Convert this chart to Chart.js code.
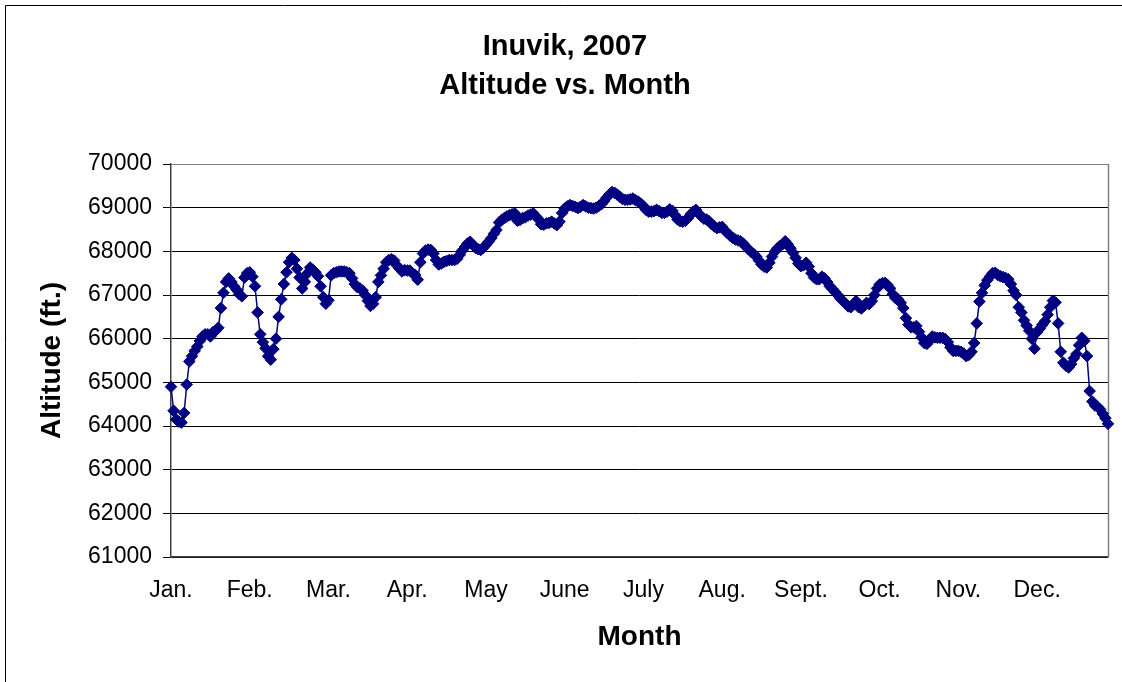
<!DOCTYPE html>
<html>
<head>
<meta charset="utf-8">
<script src="https://cdn.jsdelivr.net/npm/chart.js@4.4.1/dist/chart.umd.min.js"></script>
<style>
  html, body { margin: 0; padding: 0; background: #ffffff; }
  #wrap { width: 1122px; height: 682px; position: relative; }
</style>
</head>
<body>
<div id="wrap"><canvas id="c" width="1122" height="682"></canvas></div>
<script>
// Month tick labels (one every 30 observations)
const monthLabels = ['Jan.', 'Feb.', 'Mar.', 'Apr.', 'May', 'June', 'July', 'Aug.', 'Sept.', 'Oct.', 'Nov.', 'Dec.'];

// Daily altitude (ft.), one value per observation, in order
const altitude = [
  64900, 64350, 64150, 64100, 64080, 64300, 64950, 65480, 65600, 65720,
  65820, 65950, 66050, 66100, 66100, 66050, 66150, 66180, 66250, 66700,
  67050, 67300, 67380, 67300, 67200, 67120, 67020, 66970, 67400, 67500,
  67520, 67420, 67200, 66600, 66100, 65920, 65780, 65600, 65520, 65760,
  66000, 66500, 66900, 67250, 67520, 67750, 67850, 67800, 67600, 67400,
  67150, 67300, 67500, 67630, 67580, 67520, 67430, 67200, 66950, 66800,
  66880, 67450, 67500, 67520, 67540, 67540, 67540, 67520, 67500, 67380,
  67250, 67180, 67150, 67100, 67000, 66870, 66750, 66800, 66950, 67300,
  67450, 67600, 67750, 67800, 67820, 67790, 67680, 67610, 67540, 67570,
  67560, 67560, 67500, 67460, 67350, 67750, 67950, 68020, 68040, 68030,
  67950, 67800, 67700, 67720, 67760, 67780, 67800, 67800, 67800, 67830,
  67920, 68020, 68100, 68180, 68220, 68150, 68080, 68050, 68030, 68080,
  68150, 68220, 68300, 68400, 68490, 68660, 68720, 68760, 68800, 68830,
  68850, 68870, 68700, 68720, 68760, 68780, 68820, 68840, 68870, 68800,
  68740, 68620, 68610, 68640, 68650, 68680, 68640, 68600, 68680, 68880,
  68980, 69030, 69060, 69040, 69020, 68990, 69020, 69060, 69030, 69000,
  68990, 68980, 69000, 69040, 69080, 69150, 69230, 69300, 69360, 69340,
  69300, 69250, 69200, 69180, 69180, 69190, 69210, 69170, 69140, 69090,
  69040, 68950, 68910, 68910, 68920, 68950, 68920, 68880, 68880, 68910,
  68960, 68930, 68830, 68730, 68690, 68680, 68700, 68760, 68850, 68910,
  68950, 68870, 68800, 68750, 68730, 68690, 68620, 68570, 68530, 68550,
  68560, 68480, 68420, 68360, 68310, 68270, 68250, 68230, 68180, 68110,
  68050, 67990, 67940, 67880, 67790, 67700, 67650, 67630, 67740, 67880,
  67990, 68070, 68120, 68160, 68230, 68160, 68070, 67970, 67850, 67720,
  67660, 67680, 67740, 67650, 67500, 67400, 67360, 67360, 67420, 67380,
  67300, 67200, 67140, 67070, 67000, 66920, 66860, 66800, 66740, 66720,
  66790, 66860, 66720, 66690, 66750, 66820, 66790, 66860, 67000, 67150,
  67240, 67270, 67280, 67230, 67150, 67020, 66930, 66900, 66820, 66700,
  66470, 66320, 66260, 66260, 66290, 66160, 66030, 65900, 65880, 65950,
  66050, 66030, 66020, 66020, 66020, 65990, 65920, 65800, 65720, 65720,
  65720, 65700, 65660, 65600, 65630, 65700, 65900, 66350, 66850, 67050,
  67220, 67340, 67420, 67500, 67510, 67460, 67430, 67410, 67390, 67360,
  67250, 67100, 67000, 66720, 66600, 66420, 66300, 66180, 66000, 65770,
  66150, 66230, 66320, 66400, 66550, 66720, 66870, 66830, 66350, 65700,
  65450, 65380, 65340, 65420, 65550, 65650, 65850, 66020, 65950, 65600,
  64800, 64560, 64470, 64440, 64380, 64280, 64180, 64050
];

// Axis ranges
const yMin = 61000, yMax = 70000, yStep = 1000;
const xStep = 30;

const FONT = "'Liberation Sans', Arial, Helvetica, sans-serif";

const points = altitude.map((v, i) => ({ x: i, y: v }));

const framePlugin = {
  id: 'frame',
  beforeDraw(chart) {
    const ctx = chart.ctx;
    ctx.save();
    ctx.fillStyle = '#ffffff';
    ctx.fillRect(0, 0, chart.width, chart.height);
    ctx.strokeStyle = '#000000';
    ctx.lineWidth = 1;
    ctx.beginPath();
    ctx.moveTo(5.5, chart.height);
    ctx.lineTo(5.5, 5.5);
    ctx.lineTo(chart.width, 5.5);
    ctx.stroke();
    ctx.restore();
  },
  beforeDatasetsDraw(chart) {
    const a = chart.chartArea;
    const ctx = chart.ctx;
    ctx.save();
    ctx.strokeStyle = '#808080';
    ctx.lineWidth = 1.5;
    ctx.beginPath();
    ctx.moveTo(Math.round(a.right) + 0.5, a.top);
    ctx.lineTo(Math.round(a.right) + 0.5, a.bottom);
    ctx.stroke();
    ctx.restore();
  }
};

new Chart(document.getElementById('c'), {
  type: 'line',
  data: {
    datasets: [{
      data: points,
      borderColor: '#000080',
      backgroundColor: '#000080',
      borderWidth: 1.5,
      pointStyle: 'rectRot',
      pointRadius: 5.8,
      pointBorderWidth: 1,
      pointBackgroundColor: '#000080',
      pointBorderColor: '#000080',
      tension: 0,
      clip: false
    }]
  },
  options: {
    responsive: false,
    animation: false,
    layout: { padding: { top: 0, left: 8, right: 0, bottom: 0 } },
    plugins: {
      legend: { display: false },
      tooltip: { enabled: false },
      title: {
        display: true,
        text: ['Inuvik, 2007', 'Altitude vs. Month'],
        color: '#000000',
        font: { family: FONT, size: 29, weight: 'bold', lineHeight: 1.345 },
        padding: { top: 27.5, bottom: 58.5 }
      }
    },
    scales: {
      x: {
        type: 'linear',
        min: 0,
        max: altitude.length - 1,
        afterFit(s) { s.height = 125; },
        grid: { display: false, drawTicks: false },
        border: { display: true, color: '#404040', width: 1.5 },
        ticks: {
          stepSize: xStep,
          includeBounds: false,
          autoSkip: false,
          maxRotation: 0,
          padding: 20,
          color: '#000000',
          font: { family: FONT, size: 23 },
          callback(v) {
            const i = Math.round(v / xStep);
            return (v % xStep === 0 && i < monthLabels.length) ? monthLabels[i] : '';
          }
        },
        title: {
          display: true,
          text: 'Month',
          color: '#000000',
          font: { family: FONT, size: 28, weight: 'bold', lineHeight: 1.2 },
          padding: { top: 0, bottom: 28 }
        }
      },
      y: {
        min: yMin,
        max: yMax,
        afterFit(s) { s.width = 163; },
        grid: {
          color: (c) => (c.tick && c.tick.value === yMax) ? '#808080' : '#000000',
          lineWidth: 1,
          drawTicks: true,
          tickLength: 8,
          tickColor: '#000000'
        },
        border: { display: true, color: '#404040', width: 1.5 },
        ticks: {
          stepSize: yStep,
          padding: 11,
          color: '#000000',
          font: { family: FONT, size: 23 },
          callback(v) { return String(v); }
        },
        title: {
          display: true,
          text: 'Altitude (ft.)',
          color: '#000000',
          font: { family: FONT, size: 28, weight: 'bold', lineHeight: 1.2 },
          padding: { top: 27, bottom: 0 }
        }
      },
      spacer: {
        type: 'linear',
        position: 'right',
        display: true,
        afterFit(s) { s.width = 14; },
        grid: { display: false, drawTicks: false },
        border: { display: false },
        ticks: { display: false }
      }
    }
  },
  plugins: [framePlugin]
});
</script>
</body>
</html>
